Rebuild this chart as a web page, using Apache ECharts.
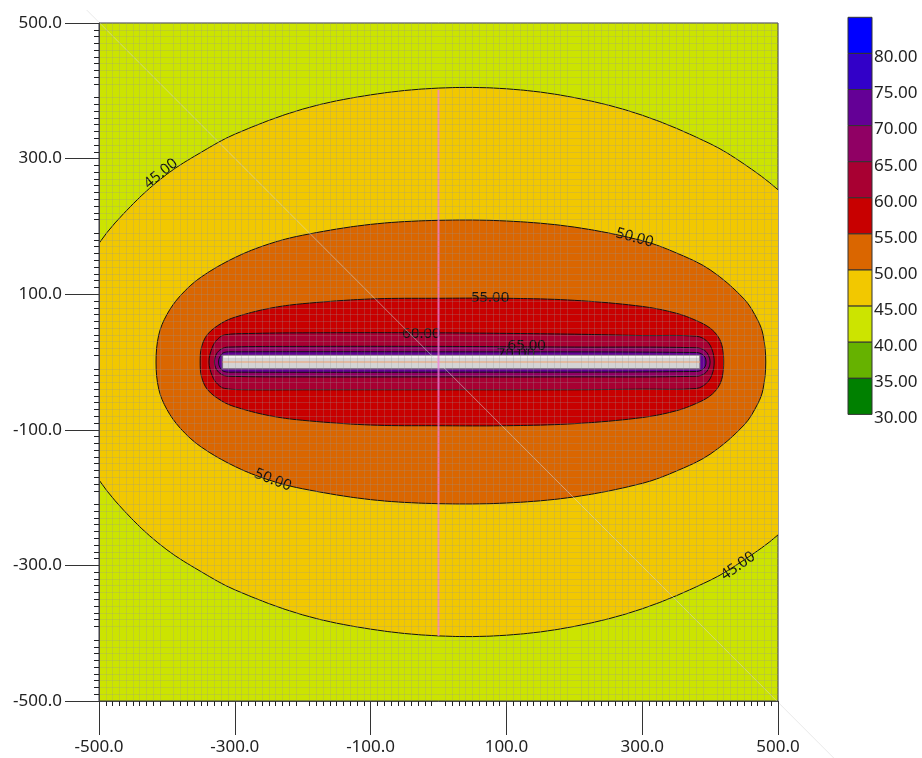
<!DOCTYPE html>
<html><head><meta charset="utf-8">
<script src="https://cdn.jsdelivr.net/npm/echarts@6/dist/echarts.min.js"></script>
<style>html,body{margin:0;padding:0;background:#fff}#c{width:922px;height:758px}</style>
</head><body><div id="c"></div>
<script>
// ---- data ----
var xTicks = [-500, -300, -100, 100, 300, 500];
var yTicks = [-500, -300, -100, 100, 300, 500];
var legendLevels = [80, 75, 70, 65, 60, 55, 50, 45, 40, 35, 30];
var legendColors = ['#0000FF', '#3200C8', '#640096', '#900064', '#A80032', '#C80000', '#DA6600', '#F2C800', '#CCE400', '#66B200', '#008000'];
var contourLevels = [45, 50, 55, 60, 65, 70];
var contourFills = ['#F2C800', '#DA6600', '#C80000', '#A80032', '#900064', '#640096'];
var backgroundFill = '#CCE400';

var contour45 = [[-559,0],[-540,101],[-500,175],[-450,233],[-400,277],[-350,309],[-300,336],[-200,373],[-100,394],[0,404],[100,403],[200,390],[300,364],[400,322],[450,292],[500,254],[550,203],[600,129],[631,0],
  [600,-129],[550,-203],[500,-255],[450,-292],[400,-322],[300,-364],[200,-390],[100,-403],[0,-404],[-100,-394],[-200,-373],[-300,-336],[-350,-309],[-400,-277],[-450,-233],[-500,-174],[-540,-101]];
var contour50 = [[-416,0],[-412,40],[-400,70],[-380,98],[-350,125],[-300,154],[-250,174],[-200,187],[-100,203],[0,209],[100,208],[200,199],[300,179],[350,161],[400,136],[450,93],[470,62],[478,40],[482,0],
  [478,-40],[470,-62],[450,-93],[400,-136],[350,-161],[300,-179],[200,-199],[100,-208],[0,-209],[-100,-203],[-200,-187],[-250,-174],[-300,-154],[-350,-125],[-380,-98],[-400,-70],[-412,-40]];
var contour55 = [[-351,0],[-349,22],[-340,41],[-320,57],[-300,66],[-250,79],[-200,86],[-100,93],[0,94],[100,94],[200,91],[300,82],[350,72],[380,61],[400,50],[412,37],[418,22],[420,0],
  [418,-22],[412,-37],[400,-50],[380,-61],[350,-72],[300,-82],[200,-91],[100,-94],[0,-94],[-100,-93],[-200,-86],[-250,-79],[-300,-66],[-320,-57],[-340,-41],[-349,-22]];
var contour60 = [[-338,0],[-333,22],[-325,34],[-315,40],[-280,42],[-200,43],[0,43],[200,41],[300,39],[380,38],[395,31],[403,18],[406,0],
  [403,-18],[395,-31],[380,-39],[300,-40],[200,-41],[0,-41],[-200,-41],[-280,-41],[-315,-39],[-325,-33],[-333,-21]];
var contour65 = [[-330,0],[-327,12],[-320,19],[-310,22],[-200,23],[0,23],[200,22],[380,21],[392,17],[398,9],[400,0],
  [398,-9],[392,-17],[380,-21],[200,-22],[0,-22],[-200,-22],[-310,-21],[-320,-18],[-327,-11]];
var contour70 = [[-324,0],[-322,8],[-316,14],[-300,15],[0,15],[380,14],[389,11],[393,6],[394,0],
  [393,-6],[389,-11],[380,-14],[0,-15],[-300,-15],[-316,-14],[-322,-8]];
var contourShapes = [contour45, contour50, contour55, contour60, contour65, contour70];

// contour labels: x, y, text, angle (deg)
var contourLabels = [[-409,278,'45.00',39],[441,-301,'45.00',35],[289,183,'50.00',-15],[-244,-174,'50.00',-21],[76,95,'55.00',0],[-25,42,'60.00',0],[114,12,'70.00',0],[130,24,'65.00',0]];

var roadX = [-318, 385];
var roadY = [-10, 10];
var receiverLine = [[0, 401], [0, -404]];
var diagonalLine = [[-518, 519], [592, -594]];

// ---- chart ----
var chart = echarts.init(document.getElementById('c'), null, {renderer: 'canvas'});
var FONT = '"Noto Sans", "DejaVu Sans", sans-serif';
var GRIDC = 'rgba(150,150,150,0.26)';

function axisCommon(ticks) {
  return {
    type: 'value', min: -500, max: 500, interval: 100, z: 5,
    axisLine: {show: true, onZero: false, lineStyle: {color: '#444', width: 1}},
    axisTick: {show: true, customValues: ticks, length: 34, lineStyle: {color: '#333'}},
    minorTick: {show: true, splitNumber: 10, length: 5, lineStyle: {color: '#222'}},
    splitLine: {show: true, lineStyle: {color: GRIDC, width: 1}},
    minorSplitLine: {show: true, lineStyle: {color: GRIDC, width: 1}},
    axisLabel: {customValues: ticks, color: '#222', fontFamily: FONT, fontSize: 17,
      formatter: function (v) { return Number(v).toFixed(1); }}
  };
}

var xAxis = axisCommon(xTicks); xAxis.axisLabel.margin = 38;
var yAxis = axisCommon(yTicks); yAxis.axisLabel.margin = 37;

var graphics = [];
var lgX = 848, lgTop = 17.3, lgW = 24, lgH = 36.1;
legendColors.forEach(function (c, i) {
  graphics.push({type: 'rect', shape: {x: lgX, y: lgTop + i * lgH, width: lgW, height: lgH},
    style: {fill: c, stroke: '#333', lineWidth: 1}});
});
legendLevels.forEach(function (lv, i) {
  graphics.push({type: 'text', x: 874, y: lgTop + (i + 1) * lgH + 4,
    style: {text: lv.toFixed(2), fill: '#222', font: '17px ' + FONT, verticalAlign: 'middle', align: 'left'}});
});

var option = {
  backgroundColor: '#fff',
  animation: false,
  grid: {left: 99, top: 23, width: 679, height: 678, show: true, backgroundColor: backgroundFill, borderColor: '#3a3a4a', borderWidth: 1},
  xAxis: xAxis,
  yAxis: yAxis,
  graphic: graphics,
  series: [
    {
      type: 'custom', clip: true, z: 2,
      data: contourLevels.map(function (lv) { return [0, 0, lv]; }),
      renderItem: function (params, api) {
        var i = params.dataIndex;
        var pts = contourShapes[i].map(function (p) { return api.coord(p); });
        return {type: 'polygon', shape: {points: pts, smooth: 0.35},
          style: {fill: contourFills[i], stroke: '#111', lineWidth: 1}};
      }
    },
    {
      type: 'custom', clip: true, z: 2,
      data: contourLabels.map(function (l) { return [l[0], l[1]]; }),
      renderItem: function (params, api) {
        var l = contourLabels[params.dataIndex];
        var p = api.coord([l[0], l[1]]);
        return {type: 'text', x: p[0], y: p[1], rotation: l[3] * Math.PI / 180,
          style: {text: l[2], fill: '#111', font: '15px ' + FONT, align: 'center', verticalAlign: 'middle'}};
      }
    },
    {
      type: 'custom', clip: true, z: 2,
      data: [[roadX[0], roadY[1]]],
      renderItem: function (params, api) {
        var p0 = api.coord([roadX[0], roadY[1]]);
        var p1 = api.coord([roadX[1], roadY[0]]);
        var midY = api.coord([0, 0])[1];
        return {type: 'group', children: [
          {type: 'rect', shape: {x: p0[0], y: p0[1], width: p1[0] - p0[0], height: p1[1] - p0[1]},
            style: {fill: '#D4D4D4', stroke: '#7a6a7a', lineWidth: 1}},
          {type: 'line', shape: {x1: p0[0] + 1, y1: p0[1] + 1.5, x2: p1[0] - 1, y2: p0[1] + 1.5}, style: {stroke: '#F4F4F4', lineWidth: 2}},
          {type: 'line', shape: {x1: p0[0], y1: midY, x2: p1[0], y2: midY}, style: {stroke: '#F0A070', lineWidth: 1}}
        ]};
      }
    },
    {
      type: 'line', z: 3, data: receiverLine, symbol: 'none', silent: true,
      lineStyle: {color: 'rgba(240,128,220,0.75)', width: 2}
    },
    {
      type: 'custom', clip: false, z: 3, silent: true,
      data: diagonalLine,
      renderItem: function (params, api) {
        if (params.dataIndex !== 0) { return null; }
        var a = api.coord(diagonalLine[0]);
        var b = api.coord(diagonalLine[1]);
        return {type: 'line', shape: {x1: a[0], y1: a[1], x2: b[0], y2: b[1]},
          style: {stroke: 'rgba(215,215,215,0.55)', lineWidth: 1}};
      }
    }
  ]
};
chart.setOption(option);
</script>
</body></html>
